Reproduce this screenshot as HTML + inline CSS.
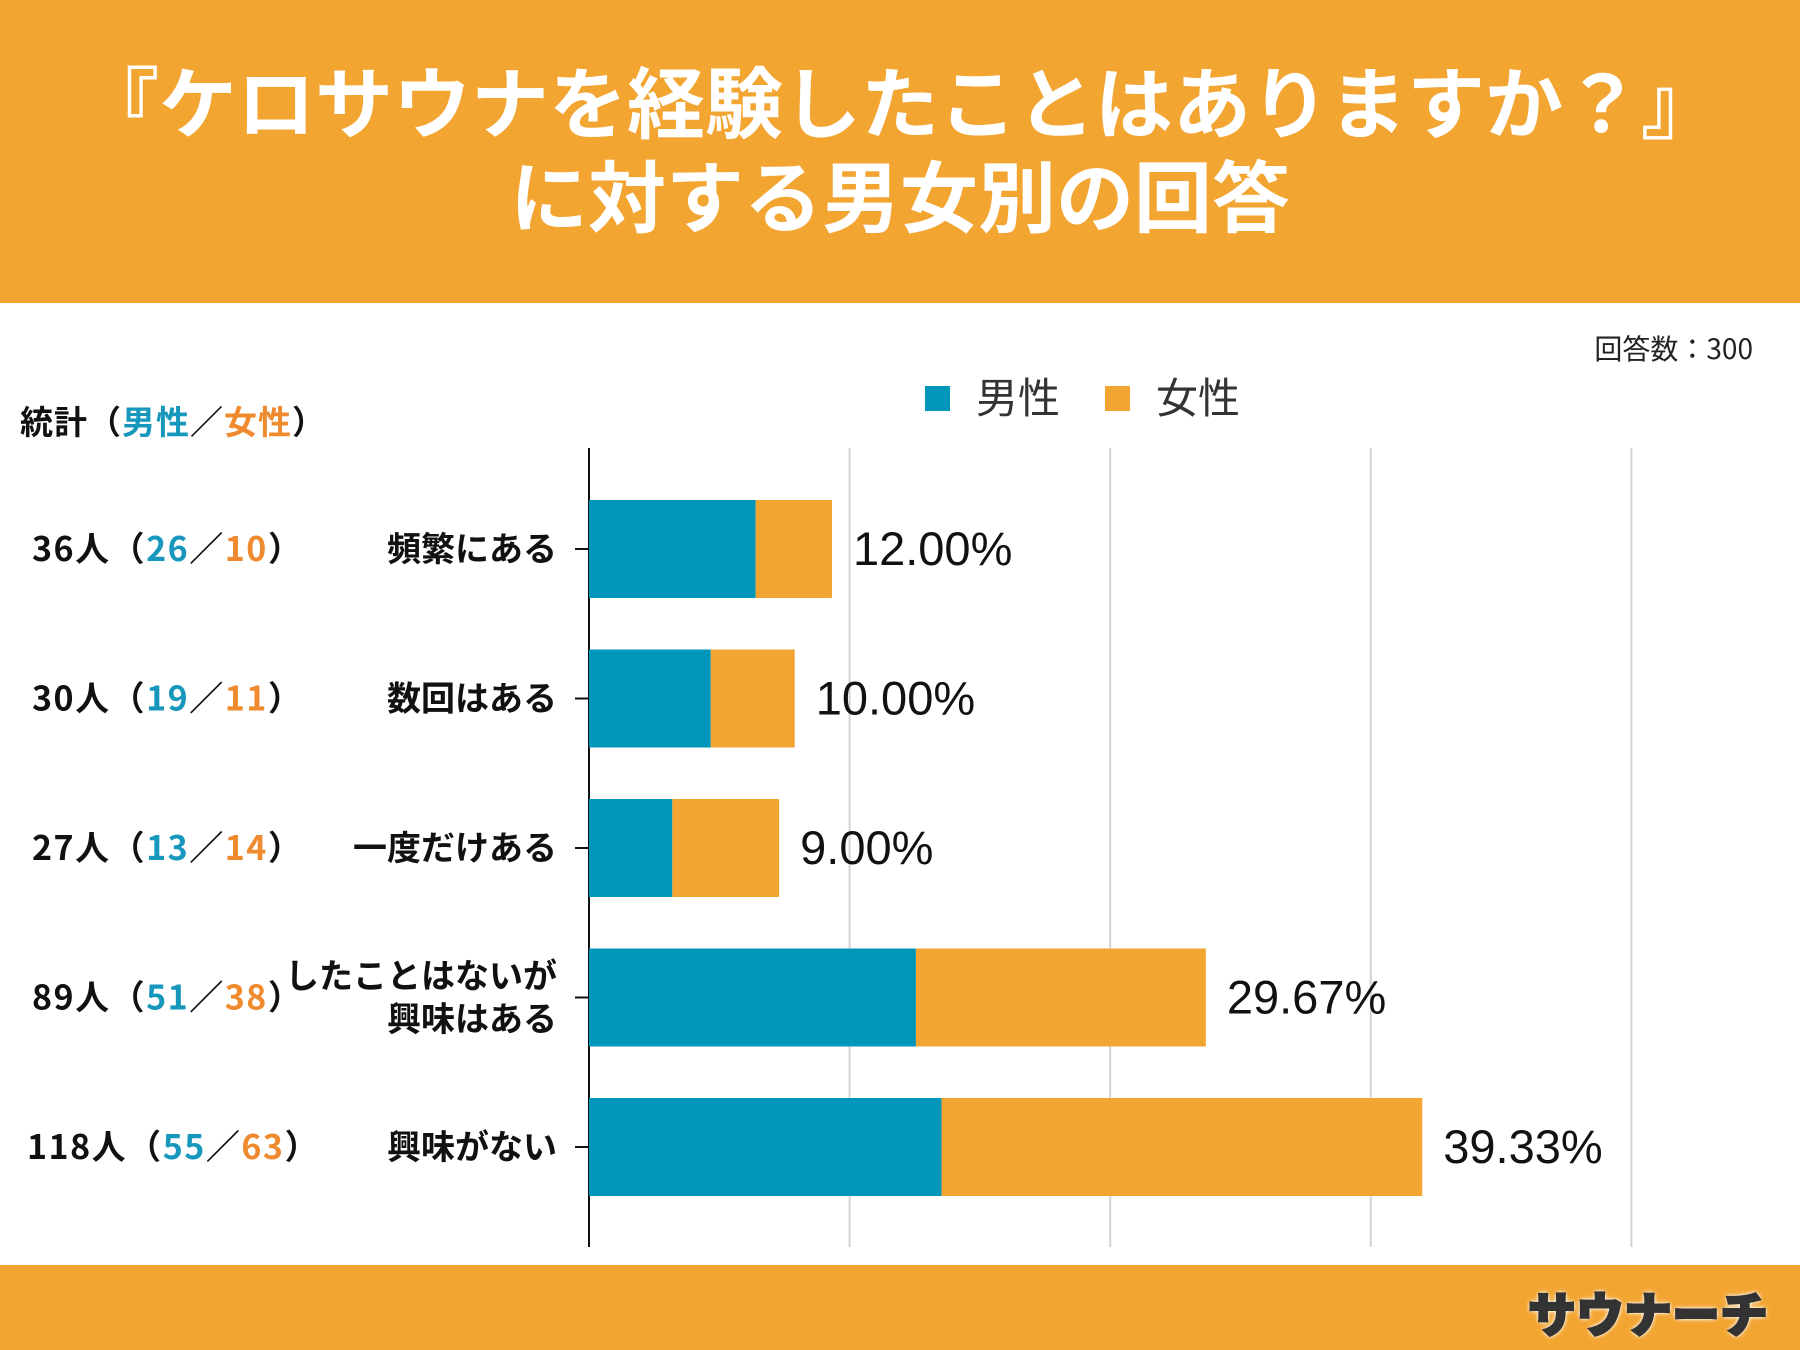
<!DOCTYPE html>
<html><head><meta charset="utf-8"><style>
body{margin:0;width:1800px;height:1350px;background:#fff;overflow:hidden;font-family:"Liberation Sans","Noto Sans CJK JP",sans-serif;position:relative}
.abs{position:absolute;white-space:nowrap}
.b{color:#1897bd}.o{color:#ef8a2e}
</style></head><body>
<div class="abs" style="left:0;top:0;width:1800px;height:303px;background:#f3a532"></div>
<div class="abs" style="left:0;top:52px;width:1800px;text-align:center;color:#fff;font-weight:bold;font-size:78px;line-height:94px;font-family:'Noto Sans CJK JP',sans-serif">『ケロサウナを経験したことはありますか？』<br>に対する男女別の回答</div>
<div class="abs" style="right:47px;top:328px;font-size:28px;color:#222;font-family:'Noto Sans CJK JP',sans-serif">回答数：300</div>
<div class="abs" style="left:20px;top:396px;font-size:33px;letter-spacing:1px;font-weight:bold;color:#111;font-family:'Noto Sans CJK JP',sans-serif">統計（<span class="b">男性</span>／<span class="o">女性</span>）</div>
<div class="abs" style="left:0;top:1265px;width:1800px;height:85px;background:#f3a532"></div>
<div class="abs" style="left:1528px;top:1276px;font-size:48px;font-weight:900;color:#333;-webkit-text-stroke:2px #333;text-shadow:0 0 6px #fff,0 0 4px #fff,0 0 3px #fff;font-family:'Noto Sans CJK JP',sans-serif">サウナーチ</div>
<svg class="abs" style="left:0;top:0" width="1800" height="1350" id="chart"></svg>
<script>
const categories=["頻繁にある","数回はある","一度だけある","したことはないが\n興味はある","興味がない"];
const maleValues=[26,19,13,51,55];
const femaleValues=[10,11,14,38,63];
const totals=[36,30,27,89,118];
const percentLabels=["12.00%","10.00%","9.00%","29.67%","39.33%"];
const gridTicks=[1,2,3,4];
const NS="http://www.w3.org/2000/svg";
const svg=document.getElementById('chart');
const x0=589, maleK=6.41, femaleK=7.63, gridStep=260.6;
const rowY=i=>549+i*149.5, barH=98;
function mk(t,a,p){const e=document.createElementNS(NS,t);for(const k in a)e.setAttribute(k,a[k]);(p||svg).appendChild(e);return e;}
gridTicks.forEach(g=>{const l=mk('line',{x1:x0+g*gridStep,x2:x0+g*gridStep,y1:448,y2:1247,stroke:'#d4d4d4','stroke-width':2});

});
const ax=mk('line',{x1:x0,x2:x0,y1:448,y2:1247,stroke:'#111','stroke-width':2});


const lg=[['#0096b9','男性',925,976],['#f3a532','女性',1105,1156]];
lg.forEach(d=>{const r=mk('rect',{x:d[2],y:386,width:25,height:25,fill:d[0]});


const t=mk('text',{x:d[3],y:413,'font-size':42,fill:'#333','font-family':'Noto Sans CJK JP,sans-serif'});t.textContent=d[1];

});
categories.forEach((c,i)=>{
 const y=rowY(i), mw=maleValues[i]*maleK, fw=femaleValues[i]*femaleK;
 const m=mk('rect',{x:x0,y:y-barH/2,width:mw,height:barH,fill:'#0096b9'});
 
 
 const f=mk('rect',{x:x0+mw,y:y-barH/2,width:fw,height:barH,fill:'#f3a532'});
 
 
 const p=mk('text',{x:x0+mw+fw+21,y:y+16,'font-size':47,fill:'#111'});p.textContent=percentLabels[i];
 
 
 const tk=mk('line',{x1:575,x2:x0,y1:y,y2:y,stroke:'#111','stroke-width':2});
 
 
 const lines=c.split('\n');
 lines.forEach((ln,j)=>{const t=mk('text',{x:557,y:y+12+(j-(lines.length-1)/2)*43,'font-size':34,'font-weight':'bold','text-anchor':'end',fill:'#111','font-family':'Noto Sans CJK JP,sans-serif'});t.textContent=ln;
 
 });
 const s=mk('text',{x:totals[i]>=100?27:32,y:y+12,'font-size':34,'letter-spacing':1.5,'font-weight':'bold',fill:'#111','font-family':'Noto Sans CJK JP,sans-serif'});
 
 
 const parts=[[totals[i]+'人（','#111'],[String(maleValues[i]),'#1897bd'],['／','#111'],[String(femaleValues[i]),'#ef8a2e'],['）','#111']];
 parts.forEach(pt=>{const ts=mk('tspan',{fill:pt[1]},s);ts.textContent=pt[0];});
});
</script>
</body></html>
